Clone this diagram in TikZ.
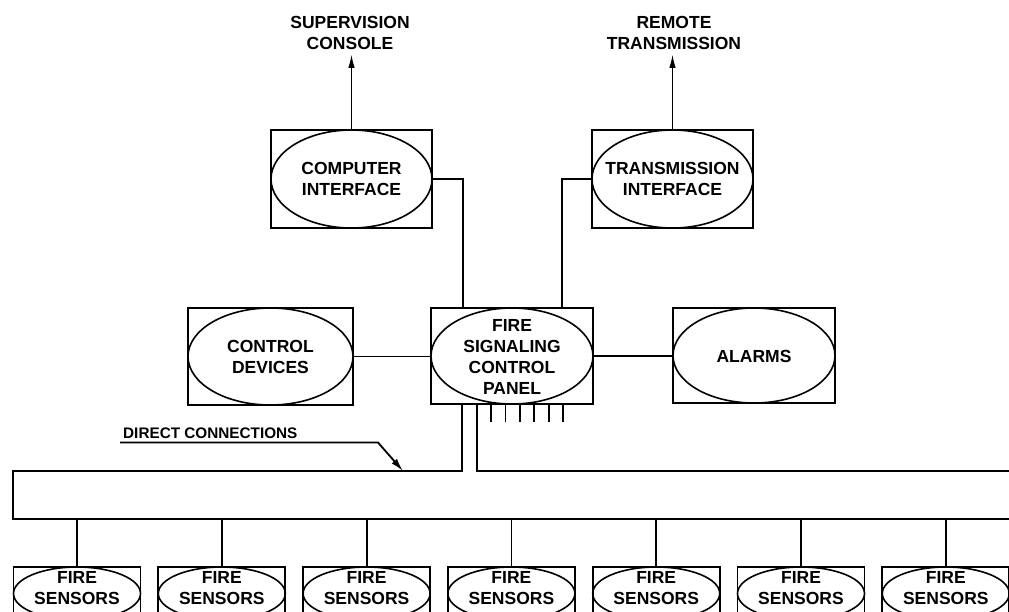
\documentclass[tikz,border=0pt]{standalone}
\usepackage{fontspec}
\setmainfont{Liberation Sans}
\usetikzlibrary{shapes.geometric,arrows.meta}
\tikzset{
  frame/.style={draw, rectangle, inner sep=0pt, outer sep=0pt, line width=1.7pt},
  oval/.style={draw, ellipse, inner sep=0pt, outer sep=0pt, line width=1.6pt},
  lbl/.style={align=center, inner sep=0pt, font=\bfseries\fontsize{17.5}{21}\selectfont},
  smalllbl/.style={inner sep=0pt, font=\bfseries\fontsize{15.3}{18}\selectfont},
  wire/.style={line width=1.8pt},
  outarrow/.style={wire, -{Latex[length=14pt,width=6.5pt]}},
  leader/.style={wire, -{Latex[length=13pt,width=7pt]}}
}
% a framed unit: rectangle, ellipse inside it, and its caption
\newcommand\sysunit[7]{%
  \node[frame, minimum width=#4pt, minimum height=#5pt] (#1) at (#2,#3) {};
  \node[oval, minimum width=#4pt, minimum height=#5pt] (#1-o) at (#2,#3) {};
  \node[lbl] (#1-t) at (#2,#6) {#7};
}
\begin{document}
\begin{tikzpicture}[x=1pt, y=-1pt]
\useasboundingbox (0,0) rectangle (1009,611);
\clip (0,0) rectangle (1009,611);

% upper units
\sysunit{ci}{351.5}{179}{161}{98}{179}{COMPUTER\\INTERFACE}
\sysunit{ti}{672.5}{179}{161}{98}{179}{TRANSMISSION\\INTERFACE}

% middle row
\sysunit{cd}{270.5}{356.5}{165}{97}{356.5}{CONTROL\\DEVICES}
\sysunit{cp}{512}{356}{162}{96}{357}{FIRE\\SIGNALING\\CONTROL\\PANEL}
\sysunit{al}{754}{355.5}{162}{95}{356}{ALARMS}

% outgoing destinations
\node[lbl] (sup) at (350,33) {SUPERVISION\\CONSOLE};
\node[lbl] (rem) at (674,33) {REMOTE\\TRANSMISSION};
\coordinate (supb) at ([yshift=-4pt]sup.south);
\coordinate (remb) at ([yshift=-4pt]rem.south);
\draw[outarrow] (ci.north) -- (ci.north |- supb);
\draw[outarrow] (ti.north) -- (ti.north |- remb);

% links into the control panel
\coordinate (cpa) at ([xshift=32pt]cp.north west);
\coordinate (cpb) at ([xshift=-31pt]cp.north east);
\draw[wire] (ci.east) -| (cpa);
\draw[wire] (ti.west) -| (cpb);
\draw[wire] (cd.east) -- (cd.east -| cp.west);
\draw[wire] (cp.east) -- (cp.east -| al.west);

% terminal strip under the panel
\foreach \k in {0,...,5}
  \draw[wire] ([xshift={60+14.4*\k}]cp.south west) -- ++(0,18);

% sensor bus
\coordinate (bustl) at (13,471);
\coordinate (busbl) at (13,519);
\coordinate (cpl) at ([xshift=31pt]cp.south west);
\coordinate (cpr) at ([xshift=46pt]cp.south west);
\draw[wire] (cpl) -- (cpl |- bustl) -- (bustl) -- (busbl) -- (1020,519);
\draw[wire] (cpr) -- (cpr |- bustl) -- (1020,471);

% direct connections callout
\node[smalllbl, anchor=base west] (dc) at (123,438) {DIRECT CONNECTIONS};
\coordinate (dcend) at (403,471);
\draw[leader] ([xshift=-3pt,yshift=-4.5pt]dc.base west) -- (378,442.5) -- (dcend);

% fire sensors
\foreach \i in {0,...,6} {
  \pgfmathsetmacro\sx{77+144.8*\i}
  \sysunit{s\i}{\sx}{593.5}{127}{53}{588}{FIRE\\SENSORS}
  \draw[wire] (s\i.north) -- (s\i.north |- busbl);
}
\end{tikzpicture}
\end{document}
